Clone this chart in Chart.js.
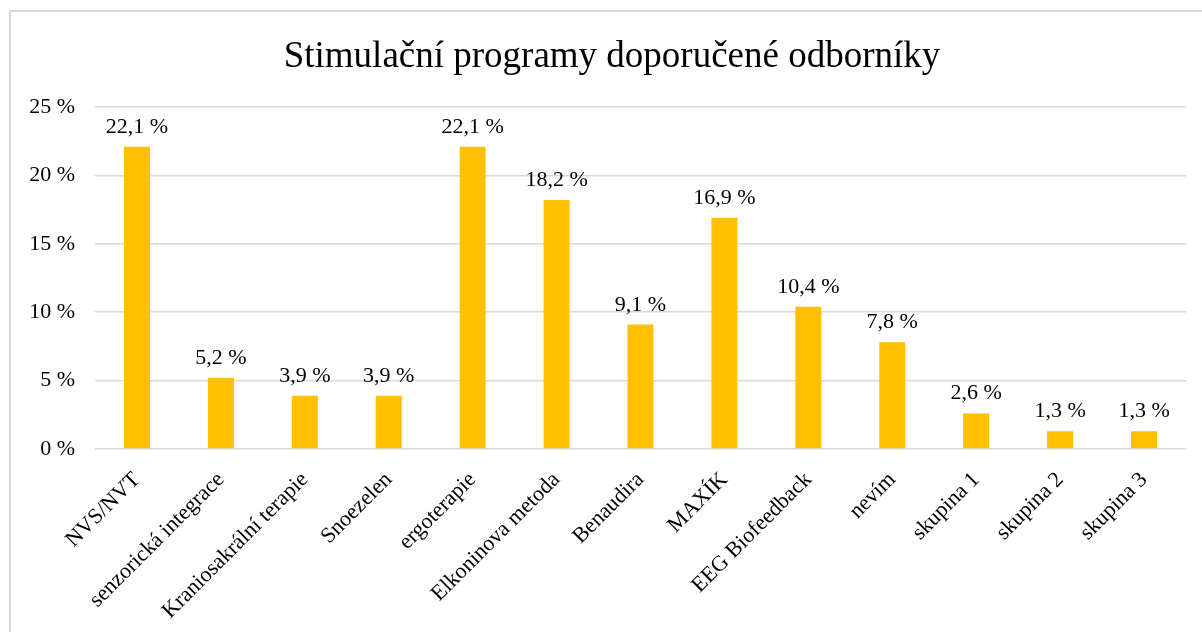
<!DOCTYPE html>
<html lang="cs">
<head>
    <meta charset="UTF-8">
    <title>Stimulační programy doporučené odborníky</title>
    <style>
        * {
            margin: 0;
            padding: 0;
            box-sizing: border-box;
        }

        body {
            background-color: #fff;
            width: 1202px;
            height: 632px;
            overflow: hidden;
            position: relative;
        }

        .frame {
            position: absolute;
            left: 9px;
            top: 10px;
            width: 1300px;
            height: 700px;
            border-left: 2px solid #d9d9d9;
            border-top: 2px solid #d9d9d9;
        }

        .chart-box {
            position: absolute;
            left: 0;
            top: 0;
            width: 1202px;
            height: 632px;
        }
    </style>
    <script src="https://cdn.jsdelivr.net/npm/chart.js@4.4.0/dist/chart.umd.min.js"></script>
</head>
<body>
    <div class="frame"></div>
    <div class="chart-box">
        <canvas id="programsChart"></canvas>
    </div>

    <script>
        // Data
        const categories = [
            'NVS/NVT', 'senzorická integrace', 'Kraniosakrální terapie', 'Snoezelen',
            'ergoterapie', 'Elkoninova metoda', 'Benaudira', 'MAXÍK',
            'EEG Biofeedback', 'nevím', 'skupina 1', 'skupina 2', 'skupina 3'
        ];
        const shares = [22.1, 5.2, 3.9, 3.9, 22.1, 18.2, 9.1, 16.9, 10.4, 7.8, 2.6, 1.3, 1.3];
        const yTicks = [0, 5, 10, 15, 20, 25];
        const chartTitle = 'Stimulační programy doporučené odborníky';

        const serif = "'Liberation Serif', 'Times New Roman', serif";

        function fmt(v, digits) {
            return v.toFixed(digits).replace('.', ',') + ' %';
        }

        // title drawn by hand so it can sit centred on the whole frame
        const titlePlugin = {
            id: 'frameTitle',
            afterDraw(chart) {
                const ctx = chart.ctx;
                ctx.save();
                ctx.font = '37px ' + serif;
                ctx.fillStyle = '#000';
                ctx.textAlign = 'center';
                ctx.textBaseline = 'middle';
                ctx.fillText(chartTitle, 612, 57);
                ctx.restore();
            }
        };

        // value labels above each bar
        const valueLabels = {
            id: 'valueLabels',
            afterDatasetsDraw(chart) {
                const ctx = chart.ctx;
                const meta = chart.getDatasetMeta(0);
                ctx.save();
                ctx.font = '22px ' + serif;
                ctx.fillStyle = '#000';
                ctx.textAlign = 'center';
                ctx.textBaseline = 'alphabetic';
                meta.data.forEach((bar, i) => {
                    ctx.fillText(fmt(shares[i], 1), bar.x, bar.y - 14);
                });
                ctx.restore();
            }
        };

        new Chart(document.getElementById('programsChart'), {
            type: 'bar',
            data: {
                labels: categories,
                datasets: [{
                    data: shares,
                    backgroundColor: '#ffc000',
                    barPercentage: 0.31,
                    categoryPercentage: 1
                }]
            },
            options: {
                responsive: true,
                maintainAspectRatio: false,
                animation: false,
                layout: {
                    padding: { top: 107, right: 16, bottom: 0, left: 0 }
                },
                plugins: {
                    legend: { display: false },
                    tooltip: { enabled: false },
                    title: { display: false }
                },
                scales: {
                    x: {
                        grid: { display: false },
                        border: { display: false },
                        ticks: {
                            color: '#000',
                            font: { family: serif, size: 22 },
                            minRotation: 45,
                            maxRotation: 45,
                            autoSkip: false,
                            padding: 10
                        },
                        afterFit(scale) {
                            scale.height = 183;
                        }
                    },
                    y: {
                        min: 0,
                        max: 25,
                        afterBuildTicks(scale) {
                            scale.ticks = yTicks.map(v => ({ value: v }));
                        },
                        grid: {
                            color: '#d9d9d9',
                            lineWidth: 1.5,
                            drawTicks: false
                        },
                        border: { display: false },
                        ticks: {
                            color: '#000',
                            font: { family: serif, size: 22 },
                            padding: 20,
                            callback: v => fmt(v, 0)
                        },
                        afterFit(scale) {
                            scale.width = 95;
                        }
                    }
                }
            },
            plugins: [titlePlugin, valueLabels]
        });
    </script>
</body>
</html>
